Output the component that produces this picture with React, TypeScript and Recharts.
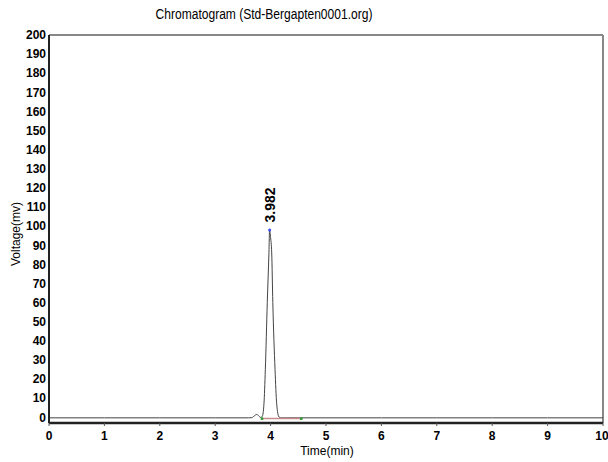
import React from "react";
import { LineChart, Line, XAxis, YAxis, ReferenceLine, ReferenceDot } from "recharts";

// retention time (min) vs detector signal (mV)
const times = [0, 1, 2, 3, 3.6, 3.66, 3.71, 3.75, 3.79, 3.82, 3.85, 3.88, 3.905, 3.94, 3.97, 3.982, 4.0, 4.02, 4.04, 4.08, 4.11, 4.15, 4.2, 5, 6, 7, 8, 9, 10];
const voltages = [-0.3, -0.3, -0.3, -0.3, -0.3, -0.2, 0.8, 1.5, 0.6, -0.1, 0.5, 7, 25, 60, 86, 98, 94, 86, 60, 25, 7, 0.2, -0.3, -0.3, -0.3, -0.3, -0.3, -0.3, -0.3];

// integration baseline of the peak
const baseTimes = [3.84, 4.55];
const baseVoltages = [-0.6, -0.6];

const peakTime = 3.982;
const peakVoltage = 98;
const peakLabel = "3.982";

const xTicks = [0, 1, 2, 3, 4, 5, 6, 7, 8, 9, 10];
const yTicks = [0, 10, 20, 30, 40, 50, 60, 70, 80, 90, 100, 110, 120, 130, 140, 150, 160, 170, 180, 190, 200];

const signal = times.map((t, i) => ({ t, v: voltages[i] }));
const baseline = baseTimes.map((t, i) => ({ t, v: baseVoltages[i] }));

const font = "'Liberation Sans', Arial, sans-serif";
const tickStyle = { fill: "#000", fontSize: 12, fontWeight: "bold", fontFamily: font };

const PeakLabel = (props: any) => {
    const vb = props.viewBox || {};
    const x = vb.x + (vb.width || 0) / 2 + 5;
    const y = vb.y - 6;
    return (
        <text
            x={x}
            y={y}
            transform={`rotate(-90 ${x} ${y})`}
            fontSize={14}
            fontWeight="bold"
            fontFamily={font}
            fill="#000"
        >
            {peakLabel}
        </text>
    );
};

const GreenDot = (props: any) => {
    const { cx, cy } = props;
    return <rect x={cx - 1} y={cy - 1} width={2.5} height={2.5} fill="#2c9a2c" />;
};

export default function App() {
    return (
        <div style={{ position: "absolute", left: 0, top: 0, width: 608, height: 462, background: "#fff" }}>
            <div
                style={{
                    position: "absolute",
                    left: 0,
                    width: 528,
                    top: 6,
                    textAlign: "center",
                    fontFamily: font,
                    fontSize: 14,
                    color: "#000",
                    transform: "scaleX(0.86)",
                    transformOrigin: "264px 0",
                }}
            >
                Chromatogram (Std-Bergapten0001.org)
            </div>
            <LineChart width={608} height={462} margin={{ top: 35, right: 5, bottom: 0, left: 0 }}>
                <XAxis
                    dataKey="t"
                    type="number"
                    domain={[0, 10]}
                    ticks={xTicks}
                    allowDataOverflow
                    height={39}
                    tick={tickStyle}
                    tickSize={3}
                    tickMargin={5}
                    tickLine={{ stroke: "#555" }}
                    axisLine={{ stroke: "#222", strokeWidth: 2.5 }}
                    label={{
                        content: () => (
                            <text x={327} y={455} textAnchor="middle" fontSize={12} fontFamily={font} fill="#000">
                                Time(min)
                            </text>
                        ),
                    }}
                />
                <YAxis
                    dataKey="v"
                    type="number"
                    domain={[-3, 200]}
                    ticks={yTicks}
                    interval={0}
                    width={49}
                    tick={tickStyle}
                    tickSize={2}
                    tickMargin={1}
                    tickLine={false}
                    axisLine={{ stroke: "#222", strokeWidth: 2 }}
                    label={{
                        content: () => (
                            <text
                                x={20}
                                y={234}
                                transform="rotate(-90 20 234)"
                                textAnchor="middle"
                                fontSize={12}
                                fontFamily={font}
                                fill="#000"
                            >
                                Voltage(mv)
                            </text>
                        ),
                    }}
                />
                <ReferenceLine y={200} stroke="#888" strokeWidth={2} />
                <ReferenceLine x={10} stroke="#888" strokeWidth={2} />
                <Line
                    data={signal}
                    dataKey="v"
                    type="monotone"
                    stroke="#444"
                    strokeWidth={1}
                    dot={false}
                    isAnimationActive={false}
                />
                <Line
                    data={baseline}
                    dataKey="v"
                    type="linear"
                    stroke="#c98a8a"
                    strokeWidth={1.5}
                    dot={<GreenDot />}
                    isAnimationActive={false}
                />
                <ReferenceDot
                    x={peakTime}
                    y={peakVoltage}
                    r={1.5}
                    fill="#3a4cff"
                    stroke="none"
                    label={{ content: (p: any) => <PeakLabel {...p} /> }}
                />
            </LineChart>
        </div>
    );
}
